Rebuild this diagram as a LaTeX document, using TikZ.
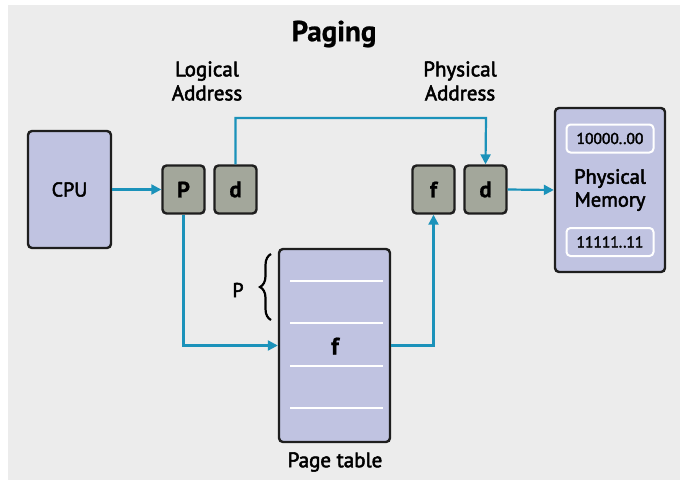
\documentclass[tikz,border=0pt]{standalone}
\usepackage{fontspec}
\setmainfont{PT Sans}[FakeBold=2.5, BoldFeatures={FakeBold=0.8}]
\usetikzlibrary{arrows.meta,decorations.pathreplacing}
\definecolor{bgc}{HTML}{ECECEC}
\definecolor{lav}{HTML}{C0C3E1}
\definecolor{gbox}{HTML}{A3A79B}
\definecolor{arr}{HTML}{1B92BA}
\definecolor{edge}{HTML}{1E1E1E}
\tikzset{
  bigbox/.style={draw=edge, line width=2.4pt, fill=lav, rounded corners=4pt, inner sep=0pt},
  bitbox/.style={draw=edge, line width=2.4pt, fill=gbox, rounded corners=4pt, minimum width=42, minimum height=48, inner sep=0pt, font=\fontsize{22.5}{22.5}\selectfont\bfseries},
  membox/.style={draw=white, line width=2pt, fill=lav, rounded corners=4pt, minimum width=87, minimum height=28, inner sep=0pt, font=\fontsize{15.5}{15.5}\selectfont},
  lbl/.style={align=center, font=\fontsize{21}{24}\selectfont},
  conn/.style={draw=arr, line width=2.2pt, -{Triangle[length=10pt,width=10pt]}},
  rowline/.style={draw=white, line width=2.2pt}
}
\begin{document}
\begin{tikzpicture}[x=1pt,y=-1pt]
\useasboundingbox (0,0) rectangle (680,480);
\fill[white] (0,0) rectangle (680,480);
\fill[bgc] (8,5) rectangle (680,480);

\node[font=\fontsize{29}{29}\selectfont\bfseries] (title) at (334,34) {Paging};
\node[lbl] (lal) at (207,81) {Logical\\Address};
\node[lbl] (pal) at (460,81) {Physical\\Address};

\node[bigbox, minimum width=83, minimum height=117] (cpu) at (69.5,189.5) {};
\node[font=\fontsize{20}{20}\selectfont] (cputxt) at (cpu.center) {CPU};

\node[bitbox] (p) at (183.5,189.5) {P};
\node[bitbox] (d) at (235.5,189.5) {d};
\node[bitbox] (f) at (433.5,189.5) {f};
\node[bitbox] (d2) at (485.5,189.5) {d};

\node[bigbox, minimum width=110, minimum height=164] (mem) at (610,190) {};
\node[membox] (m1) at (610,138.5) {10000..00};
\node[membox] (m2) at (610,242) {11111..11};
\node[lbl, font=\fontsize{20.5}{23}\selectfont] (memtxt) at (610,190) {Physical\\Memory};

\node[bigbox, minimum width=111, minimum height=193] (pt) at (334.5,345.5) {};
\draw[rowline] (290,281) -- (383,281);
\draw[rowline] (290,323) -- (383,323);
\draw[rowline] (290,366) -- (383,366);
\draw[rowline] (290,408) -- (383,408);
\node[font=\fontsize{24}{24}\selectfont\bfseries] (ftxt) at (335,346) {f};
\node[lbl] (ptl) at (335,462) {Page table};

\draw[line width=2.2pt, decorate, decoration={brace, amplitude=11pt}] (271,320) -- (271,254);
\node[lbl, font=\fontsize{20}{20}\selectfont] (plbl) at (238,290) {P};

\draw[conn] (cpu.east) -- (p.west);
\draw[conn] (d.north) |- (486,118) -- (d2.north);
\draw[conn] (p.south) |- (pt.west);
\draw[conn] (pt.east) -| (f.south);
\draw[conn] (d2.east) -- (mem.west);
\end{tikzpicture}
\end{document}
